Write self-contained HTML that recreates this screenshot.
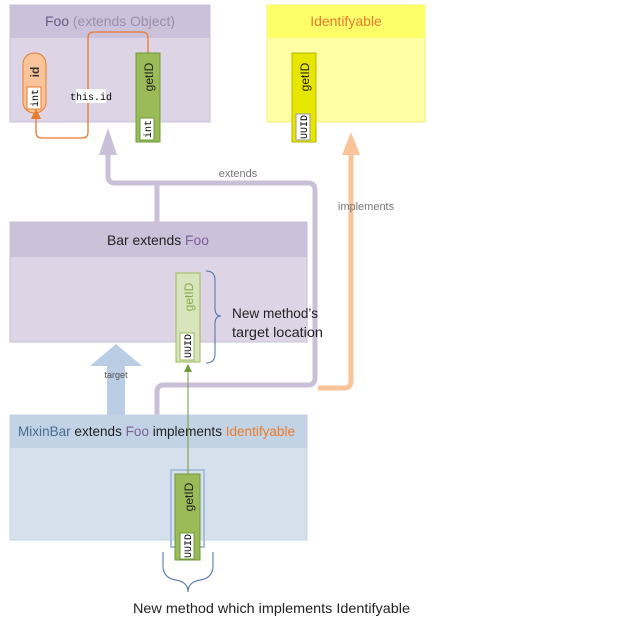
<!DOCTYPE html>
<html><head><meta charset="utf-8"><style>body{margin:0;background:#fff}svg{display:block;font-family:"Liberation Sans",sans-serif}</style></head><body>
<svg width="640" height="621" viewBox="0 0 640 621" xmlns="http://www.w3.org/2000/svg">
<defs>
<marker id="ao" markerWidth="8" markerHeight="8" refX="4" refY="4" orient="auto"><path d="M0,0L8,4L0,8z" fill="#e87b2c"/></marker>
<marker id="ag" markerWidth="8" markerHeight="8" refX="6" refY="4" orient="auto"><path d="M0,0L8,4L0,8z" fill="#6f9a3a"/></marker>
</defs>
<rect x="10" y="5" width="200" height="117" fill="#ddd5e6" stroke="#c9bfd9"/>
<rect x="10" y="5" width="200" height="33" fill="#cbc1db"/>
<text x="45" y="26" font-size="14" textLength="130" lengthAdjust="spacingAndGlyphs" fill="#6a5a84">Foo <tspan fill="#9a8fae">(extends Object)</tspan></text>
<rect x="23" y="53" width="23" height="60" rx="11" fill="#f9c49a" stroke="#e87b2c"/>
<text transform="translate(39,72) rotate(-90)" font-size="12" text-anchor="middle" font-weight="bold" fill="#333">id</text>
<rect x="27" y="87" width="14" height="22" fill="#fff" stroke="#e87b2c"/>
<text transform="translate(38,98) rotate(-90)" font-size="10" text-anchor="middle" font-family="Liberation Mono">int</text>
<path d="M148,53 V38 Q148,32 142,32 H94 Q88,32 88,38 V132 Q88,138 82,138 H42 Q36,138 36,132 V114" fill="none" stroke="#e87b2c" stroke-width="1.3" marker-end="url(#ao)"/>
<rect x="76" y="89" width="30" height="14" fill="#fff"/>
<text x="91" y="100" font-size="10" text-anchor="middle" font-family="Liberation Mono">this.id</text>
<rect x="136" y="53" width="24" height="89" fill="#9bbb59" stroke="#6f9a3a"/>
<text transform="translate(153,77) rotate(-90)" font-size="12" text-anchor="middle" fill="#222">getID</text>
<rect x="140" y="118" width="14" height="22" fill="#fff" stroke="#6f9a3a"/>
<text transform="translate(151,129) rotate(-90)" font-size="10" text-anchor="middle" font-family="Liberation Mono">int</text>
<rect x="267" y="5" width="158" height="117" fill="#ffffa6" stroke="#f2f27a"/>
<rect x="267" y="5" width="158" height="33" fill="#ffff6a"/>
<text x="346" y="26" font-size="14" text-anchor="middle" fill="#e87b2c">Identifyable</text>
<rect x="292" y="53" width="24" height="89" fill="#e6e600" stroke="#b5b500"/>
<text transform="translate(309,77) rotate(-90)" font-size="12" text-anchor="middle" fill="#222">getID</text>
<rect x="296" y="114" width="14" height="26" fill="#fff" stroke="#999"/>
<text transform="translate(307,127) rotate(-90)" font-size="10" text-anchor="middle" font-family="Liberation Mono">UUID</text>
<path d="M108,150 V176 Q108,183 115,183 H308 Q315,183 315,190 V378 Q315,385 308,385 H164 Q157,385 157,392 V415" fill="none" stroke="#c9bfd9" stroke-width="5"/>
<path d="M157,222 V183" stroke="#c9bfd9" stroke-width="5"/>
<path d="M99,155 L108,128 L117,155z" fill="#c9bfd9"/>
<text x="238" y="177" font-size="11" text-anchor="middle" fill="#777">extends</text>
<path d="M318,388 H344 Q351,388 351,381 V150" fill="none" stroke="#f9c49a" stroke-width="5"/>
<path d="M342,155 L351,132 L360,155z" fill="#f9c49a"/>
<text x="366" y="210" font-size="11" text-anchor="middle" fill="#777">implements</text>
<rect x="10" y="222" width="297" height="120" fill="#ddd5e6" stroke="#c9bfd9"/>
<rect x="10" y="222" width="297" height="35" fill="#cbc1db"/>
<text x="107" y="245" font-size="14" textLength="102" lengthAdjust="spacingAndGlyphs" fill="#222">Bar extends <tspan fill="#7a5f96">Foo</tspan></text>
<rect x="176" y="273" width="24" height="89" fill="#d7e4bc" stroke="#9bbb59"/>
<text transform="translate(193,297) rotate(-90)" font-size="12" text-anchor="middle" fill="#8aad4e">getID</text>
<rect x="180" y="333" width="14" height="27" fill="#fff" stroke="#9bbb59"/>
<text transform="translate(191,346) rotate(-90)" font-size="10" text-anchor="middle" font-family="Liberation Mono">UUID</text>
<path d="M206,271 Q215,271 215,280 V308 Q215,316 221,316 Q215,316 215,324 V354 Q215,363 206,363" fill="none" stroke="#4a6fa5" stroke-width="1"/>
<text x="232" y="318" font-size="14" textLength="86" lengthAdjust="spacingAndGlyphs" fill="#222">New method’s</text>
<text x="232" y="337" font-size="14" textLength="91" lengthAdjust="spacingAndGlyphs" fill="#222">target location</text>
<path d="M107,415 V366 H90 L116,344 L142,366 H125 V415z" fill="#b9cde4"/>
<text x="116" y="378" font-size="9" text-anchor="middle" fill="#555">target</text>
<rect x="10" y="415" width="297" height="125" fill="#d6e0ed" stroke="#c3d3e6"/>
<rect x="10" y="415" width="297" height="33" fill="#c3d3e6"/>
<text x="18" y="436" font-size="14" textLength="277" lengthAdjust="spacingAndGlyphs" fill="#222"><tspan fill="#4a6a90">MixinBar</tspan> extends <tspan fill="#7a5f96">Foo</tspan> implements <tspan fill="#e87b2c">Identifyable</tspan></text>
<rect x="171" y="470" width="33" height="77" fill="none" stroke="#a8c0dd" stroke-width="2"/>
<rect x="175" y="474" width="25" height="86" fill="#9bbb59" stroke="#6f9a3a"/>
<text transform="translate(193,497) rotate(-90)" font-size="12" text-anchor="middle" fill="#222">getID</text>
<rect x="180" y="533" width="14" height="26" fill="#fff" stroke="#6f9a3a"/>
<text transform="translate(191,546) rotate(-90)" font-size="10" text-anchor="middle" font-family="Liberation Mono">UUID</text>
<path d="M188,474 V366" stroke="#6f9a3a" stroke-width="1" marker-end="url(#ag)"/>
<path d="M163,552 V566 Q163,578 176,580 Q188,582 188,592 Q188,582 200,580 Q213,578 213,566 V552" fill="none" stroke="#4a6fa5" stroke-width="1"/>
<text x="133" y="613" font-size="14" textLength="277" lengthAdjust="spacingAndGlyphs" fill="#222">New method which implements Identifyable</text>
</svg>
</body></html>
